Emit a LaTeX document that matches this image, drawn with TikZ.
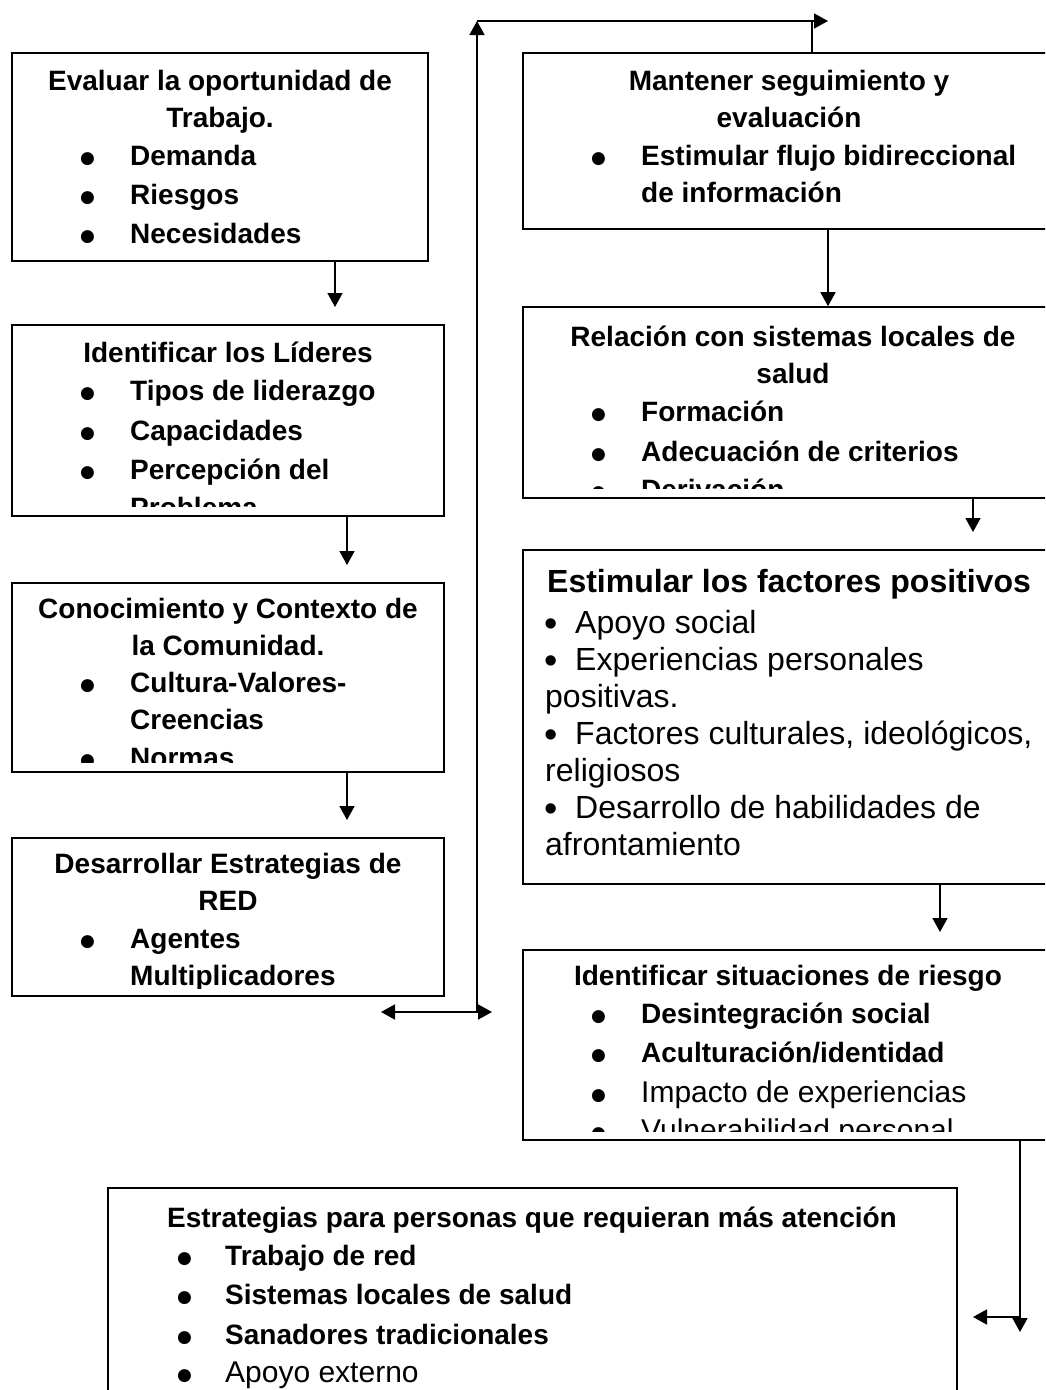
\documentclass[tikz,border=0pt]{standalone}
\usepackage{fontspec}
\setmainfont{Liberation Sans}
\newfontfamily\dvs{DejaVu Sans}
\usetikzlibrary{arrows.meta}
\newcommand\bigbul{\raisebox{2pt}{\dvs\fontsize{17}{17}\selectfont ●}}
\newcommand\bitem[1]{\makebox[50pt][l]{\bigbul}#1}
\newcommand\aitem[1]{\makebox[31pt][l]{\smash{\raisebox{-3.5pt}{\fontsize{38}{38}\selectfont •}}}#1}
\begin{document}
\begin{tikzpicture}[x=1pt,y=-1pt,
 box/.style={draw, line width=1.6pt, inner sep=0pt},
 ttl/.style={font=\bfseries\fontsize{28}{34}\selectfont, inner sep=0pt, anchor=base},
 itm/.style={font=\bfseries\fontsize{28}{34}\selectfont, inner sep=0pt, anchor=base west},
 itr/.style={font=\fontsize{30}{34}\selectfont, inner sep=0pt, anchor=base west},
 arl/.style={font=\fontsize{32}{36}\selectfont, inner sep=0pt, anchor=base west},
 arb/.style={font=\bfseries\fontsize{32}{36}\selectfont, inner sep=0pt, anchor=base west},
 arr/.style={line width=1.6pt, -{Triangle[width=15pt,length=14pt]}},
 darr/.style={line width=1.6pt, {Triangle[width=15pt,length=14pt]}-{Triangle[width=15pt,length=14pt]}},
 ln/.style={line width=1.6pt}]
\useasboundingbox (0,0) rectangle (1045,1390);
\clip (0,0) rectangle (1045,1390);
\fill[white] (0,0) rectangle (1045,1390);

% ---------- boxes ----------
\node[box, minimum width=416pt, minimum height=208pt] (b1) at (220,157) {};
\node[box, minimum width=432pt, minimum height=191pt] (b2) at (228,420.5) {};
\node[box, minimum width=432pt, minimum height=189pt] (b3) at (228,677.5) {};
\node[box, minimum width=432pt, minimum height=158pt] (b4) at (228,917) {};
\node[box, minimum width=532pt, minimum height=176pt] (b5) at (789,141) {};
\node[box, minimum width=532pt, minimum height=191pt] (b6) at (789,402.5) {};
\node[box, minimum width=532pt, minimum height=334pt] (b7) at (789,717) {};
\node[box, minimum width=532pt, minimum height=190pt] (b8) at (789,1045) {};
\node[box, minimum width=849pt, minimum height=212pt] (b9) at (532.5,1294) {};

% ---------- box 1 ----------
\node[ttl] (t1a) at (220,90) {Evaluar la oportunidad de};
\node[ttl] (t1b) at (220,127) {Trabajo.};
\node[itm] (t1c) at (80,165) {\bitem{Demanda}};
\node[itm] (t1d) at (80,204) {\bitem{Riesgos}};
\node[itm] (t1e) at (80,243) {\bitem{Necesidades}};

% ---------- box 2 ----------
\begin{scope}
\clip (12,326) rectangle (444,506);
\node[ttl] (t2a) at (228,362) {Identificar los Líderes};
\node[itm] (t2b) at (80,400) {\bitem{Tipos de liderazgo}};
\node[itm] (t2c) at (80,440) {\bitem{Capacidades}};
\node[itm] (t2d) at (80,479) {\bitem{Percepción del}};
\node[itm] (t2e) at (130,517) {Problema};
\end{scope}

% ---------- box 3 ----------
\begin{scope}
\clip (12,584) rectangle (444,762);
\node[ttl] (t3a) at (228,618) {Conocimiento y Contexto de};
\node[ttl] (t3b) at (228,655) {la Comunidad.};
\node[itm] (t3c) at (80,692) {\bitem{Cultura-Valores-}};
\node[itm] (t3d) at (130,729) {Creencias};
\node[itm] (t3e) at (80,767) {\bitem{Normas}};
\end{scope}

% ---------- box 4 ----------
\begin{scope}
\clip (12,839) rectangle (444,988);
\node[ttl] (t4a) at (228,873) {Desarrollar Estrategias de};
\node[ttl] (t4b) at (228,910) {RED};
\node[itm] (t4c) at (80,948) {\bitem{Agentes}};
\node[itm] (t4d) at (130,985) {Multiplicadores};
\end{scope}

% ---------- box 5 ----------
\node[ttl] (t5a) at (789,90) {Mantener seguimiento y};
\node[ttl] (t5b) at (789,127) {evaluación};
\node[itm] (t5c) at (591,165) {\bitem{Estimular flujo bidireccional}};
\node[itm] (t5d) at (641,202) {de información};

% ---------- box 6 ----------
\begin{scope}
\clip (523,308) rectangle (1053,488);
\node[ttl] (t6a) at (793,346) {Relación con sistemas locales de};
\node[ttl] (t6b) at (793,383) {salud};
\node[itm] (t6c) at (591,421) {\bitem{Formación}};
\node[itm] (t6d) at (591,461) {\bitem{Adecuación de criterios}};
\node[itm] (t6e) at (591,499) {\bitem{Derivación}};
\end{scope}

% ---------- box 7 ----------
\begin{scope}
\clip (523,551) rectangle (1053,874);
\node[arb] (t7a) at (547,592) {Estimular los factores positivos};
\node[arl] (t7b) at (544,633) {\aitem{Apoyo social}};
\node[arl] (t7c) at (544,670) {\aitem{Experiencias personales}};
\node[arl] (t7d) at (545,707) {positivas.};
\node[arl] (t7e) at (544,744) {\aitem{Factores culturales, ideológicos,}};
\node[arl] (t7f) at (545,781) {religiosos};
\node[arl] (t7g) at (544,818) {\aitem{Desarrollo de habilidades de}};
\node[arl] (t7h) at (545,855) {afrontamiento};
\end{scope}

% ---------- box 8 ----------
\begin{scope}
\clip (523,951) rectangle (1053,1131);
\node[ttl] (t8a) at (788,985) {Identificar situaciones de riesgo};
\node[itm] (t8b) at (591,1023) {\bitem{Desintegración social}};
\node[itm] (t8c) at (591,1062) {\bitem{Aculturación/identidad}};
\node[itr] (t8d) at (591,1102) {\bitem{Impacto de experiencias}};
\node[itr] (t8e) at (591,1140) {\bitem{Vulnerabilidad personal}};
\end{scope}

% ---------- box 9 ----------
\node[ttl] (t9a) at (532,1227) {Estrategias para personas que requieran más atención};
\node[itm] (t9b) at (177,1265) {\makebox[48pt][l]{\bigbul}Trabajo de red};
\node[itm] (t9c) at (177,1304) {\makebox[48pt][l]{\bigbul}Sistemas locales de salud};
\node[itm] (t9d) at (177,1344) {\makebox[48pt][l]{\bigbul}Sanadores tradicionales};
\node[itr] (t9e) at (177,1382) {\makebox[48pt][l]{\bigbul}Apoyo externo};

% ---------- connectors ----------
\coordinate (a1) at (335,307);
\draw[arr] (b1.south -| a1) -- (a1);
\coordinate (a2) at (347,565);
\draw[arr] (b2.south -| a2) -- (a2);
\coordinate (a3) at (347,820);
\draw[arr] (b3.south -| a3) -- (a3);

\coordinate (dL) at (381,1012);
\coordinate (dR) at (492,1012);
\coordinate (j1) at (477,1012);
\coordinate (tL) at (477,21);
\coordinate (tM) at (812,21);
\coordinate (tR) at (828,21);
\draw[darr] (dL) -- (dR);
\draw[arr] (j1) -- (tL);
\draw[arr] (tL) -- (tR);
\draw[ln] (b5.north -| tM) -- (tM);

\coordinate (a5) at (828,307);
\draw[arr] (b5.south -| a5) -- (b6.north -| a5);
\coordinate (a6) at (973,532);
\draw[arr] (b6.south -| a6) -- (a6);
\coordinate (a7) at (940,932);
\draw[arr] (b7.south -| a7) -- (a7);
\coordinate (a8) at (1020,1332);
\coordinate (a8j) at (1020,1317);
\coordinate (a8L) at (973,1317);
\draw[arr] (b8.south -| a8) -- (a8);
\draw[arr] (a8j) -- (a8L);
\end{tikzpicture}
\end{document}
